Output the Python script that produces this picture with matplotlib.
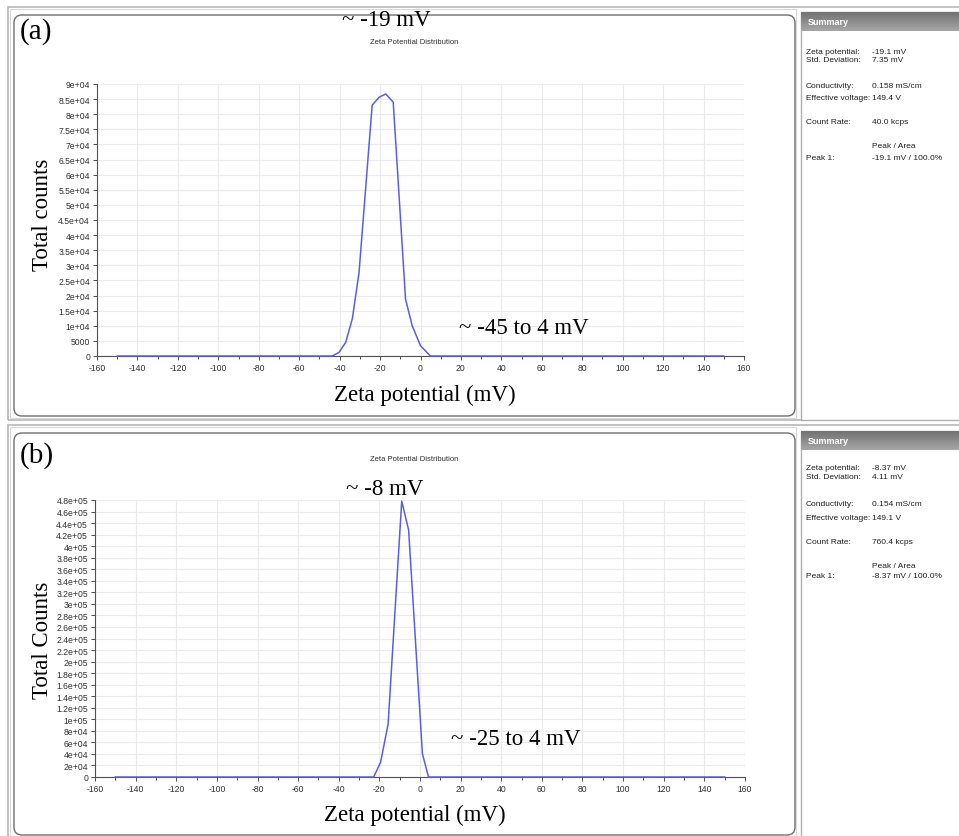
import numpy as np
import matplotlib
matplotlib.use('Agg')
import matplotlib.pyplot as plt
from matplotlib.patches import FancyBboxPatch, Rectangle
from matplotlib.transforms import IdentityTransform
from matplotlib.ticker import FuncFormatter, MultipleLocator

plt.rcParams['axes.unicode_minus'] = False

W, H = 959, 837

# (a) zeta potential distribution
top_mv = [-150, -43.6, -40.3, -37.0, -33.7, -30.4, -23.9, -20.5, -17.2, -13.5, -7.4, -4.1, 0.0, 4.9, 150]
top_counts = [0, 0, 1200, 4500, 12400, 27600, 83000, 85600, 86700, 84000, 18800, 10000, 3400, 0, 0]

# (b)
bottom_mv = [-150, -22.8, -19.4, -15.7, -9.0, -5.6, 1.2, 4.2, 150]
bottom_counts = [0, 0, 25500, 91800, 478000, 428000, 39900, 0, 0]

summary_labels = ['Zeta potential:', 'Std. Deviation:', 'Conductivity:', 'Effective voltage:',
                  'Count Rate:', '', 'Peak 1:']
top_summary = ['-19.1 mV', '7.35 mV', '0.158 mS/cm', '149.4 V', '40.0 kcps',
               'Peak / Area', '-19.1 mV / 100.0%']
bottom_summary = ['-8.37 mV', '4.11 mV', '0.154 mS/cm', '149.1 V', '760.4 kcps',
                  'Peak / Area', '-8.37 mV / 100.0%']

LINE = '#5c5ce8'
SERIF = 'Liberation Serif'
SANS = 'Liberation Sans'

fig = plt.figure(figsize=(W / 100, H / 100), dpi=100)
fig.patch.set_facecolor('white')


def fy(y):
    return 1 - y / H


def px_rect(x0, y0, x1, y1, ec='#b4b4b4', fc='none', lw=1.0, rounding=0, z=0):
    if rounding:
        p = FancyBboxPatch((x0, H - y1), x1 - x0, y1 - y0,
                           boxstyle='round,pad=0,rounding_size=%d' % rounding,
                           transform=IdentityTransform(), ec=ec, fc=fc, lw=lw, zorder=z)
    else:
        p = Rectangle((x0, H - y1), x1 - x0, y1 - y0, transform=IdentityTransform(),
                      ec=ec, fc=fc, lw=lw, zorder=z)
    fig.add_artist(p)


def sci_fmt(v, pos):
    if v == 0:
        return '0'
    if v < 1e4:
        return '%d' % v
    exp = int(np.floor(np.log10(v) + 1e-9))
    m = round(v / 10 ** exp, 2)
    return '%ge+%02d' % (m, exp)


def draw_frame(top, bottom, chart_top, header_top):
    # outer window border, runs under the summary pane too
    px_rect(8, top, 965, bottom, ec='#b8b8b8', lw=1.2)
    px_rect(10, top + 2, 796, bottom - 2, ec='#d8d8d8', lw=0.8)
    # rounded chart box
    px_rect(14, chart_top, 795, bottom - 4, ec='#6e6e6e', lw=1.0, rounding=8, z=1)
    # summary pane
    px_rect(801, header_top, 962, bottom, ec='#b0b0b0', fc='white', lw=1.0, z=1)
    hax = fig.add_axes([801 / W, fy(header_top + 19), 160 / W, 19 / H])
    hax.set_zorder(3)
    grad = np.linspace(0.45, 0.65, 20).reshape(-1, 1)
    hax.imshow(grad, aspect='auto', cmap='gray', vmin=0, vmax=1, extent=[0, 1, 0, 1])
    hax.set_axis_off()
    hax.text(0.04, 0.5, 'Summary', color='white', fontsize=6.5, fontweight='bold',
             va='center', ha='left', family=SANS)


def draw_summary(rows_y, values):
    for yy, lab, val in zip(rows_y, summary_labels, values):
        fig.text(806 / W, fy(yy), lab, fontsize=6.0, va='center', ha='left',
                 color='#202020', family=SANS, zorder=4)
        fig.text(872 / W, fy(yy), val, fontsize=6.0, va='center', ha='left',
                 color='#202020', family=SANS, zorder=4)


def draw_chart(rect, mv, counts, ymax, ystep):
    x0, y0, x1, y1 = rect
    ax = fig.add_axes([x0 / W, fy(y1), (x1 - x0) / W, (y1 - y0) / H])
    ax.set_zorder(2)
    ax.patch.set_alpha(0)
    ax.plot(mv, counts, color=LINE, lw=1.1, zorder=3, clip_on=False)
    ax.set_xlim(-160, 160)
    ax.set_ylim(0, ymax)
    ax.xaxis.set_major_locator(MultipleLocator(20))
    ax.xaxis.set_minor_locator(MultipleLocator(10))
    ax.yaxis.set_major_locator(MultipleLocator(ystep))
    ax.yaxis.set_major_formatter(FuncFormatter(sci_fmt))
    ax.grid(True, which='major', color='#ebebeb', lw=0.8)
    ax.set_axisbelow(True)
    for s in ['top', 'right']:
        ax.spines[s].set_visible(False)
    for s in ['left', 'bottom']:
        ax.spines[s].set_color('#505050')
        ax.spines[s].set_linewidth(0.8)
    ax.tick_params(which='both', labelsize=6.2, colors='#505050', length=3, width=0.7,
                   pad=2, labelcolor='#303030')
    ax.tick_params(which='minor', length=2)
    for lbl in ax.get_xticklabels() + ax.get_yticklabels():
        lbl.set_family(SANS)
    return ax


# ---- panel (a)
draw_frame(8, 421, 16, 13)
ax_a = draw_chart((97, 85, 744, 357), top_mv, top_counts, 90000, 5000)
draw_summary([52, 61, 87, 99, 123, 147, 159], top_summary)
fig.text(20 / W, fy(32), '(a)', fontsize=21, family=SERIF, va='center', ha='left')
fig.text(414 / W, fy(43), 'Zeta Potential Distribution', fontsize=5.5, family=SANS,
         ha='center', va='center', color='#303030')
fig.text(386 / W, fy(21), '~ -19 mV', fontsize=16.5, family=SERIF, ha='center', va='center')
fig.text(524 / W, fy(328), '~ -45 to 4 mV', fontsize=16.5, family=SERIF, ha='center', va='center')
fig.text(425 / W, fy(395), 'Zeta potential (mV)', fontsize=16.5, family=SERIF, ha='center', va='center')
fig.text(42 / W, fy(215), 'Total counts', fontsize=16.5, family=SERIF, ha='center', va='center',
         rotation=90)

# ---- panel (b)
draw_frame(426, 840, 434, 432)
ax_b = draw_chart((95, 501, 745, 778), bottom_mv, bottom_counts, 480000, 20000)
draw_summary([469, 478, 505, 518, 543, 566, 577], bottom_summary)
fig.text(20 / W, fy(456), '(b)', fontsize=21, family=SERIF, va='center', ha='left')
fig.text(414 / W, fy(460), 'Zeta Potential Distribution', fontsize=5.5, family=SANS,
         ha='center', va='center', color='#303030')
fig.text(385 / W, fy(490), '~ -8 mV', fontsize=16.5, family=SERIF, ha='center', va='center')
fig.text(516 / W, fy(740), '~ -25 to 4 mV', fontsize=16.5, family=SERIF, ha='center', va='center')
fig.text(415 / W, fy(815), 'Zeta potential (mV)', fontsize=16.5, family=SERIF, ha='center', va='center')
fig.text(42 / W, fy(640), 'Total Counts', fontsize=16.5, family=SERIF, ha='center', va='center',
         rotation=90)

fig.savefig('out.png', dpi=100, facecolor='white')
